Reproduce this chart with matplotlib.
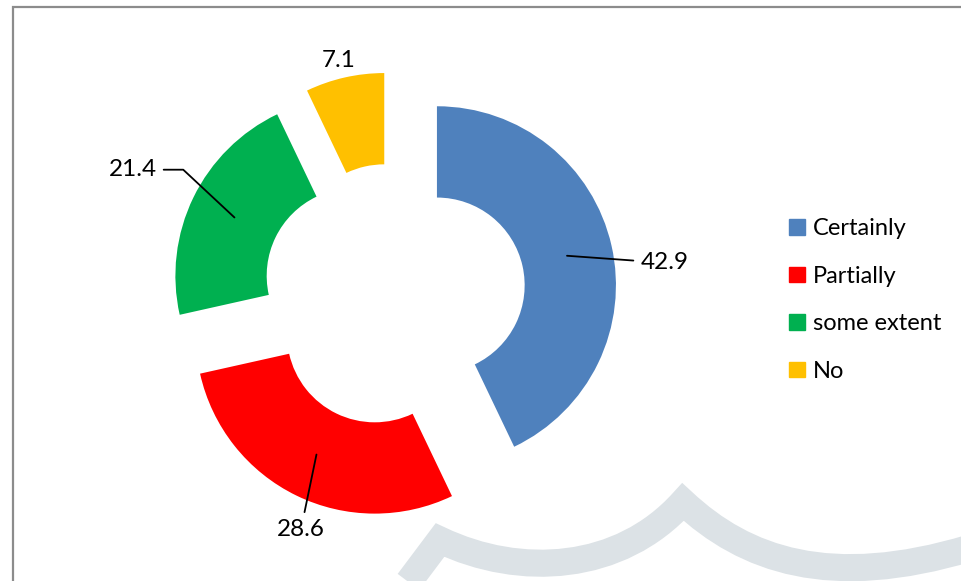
import numpy as np
import matplotlib.pyplot as plt
from matplotlib.path import Path
from matplotlib.patches import PathPatch, Rectangle

plt.rcParams['font.family'] = ['Lato', 'DejaVu Sans']

# dados
categorias = ['Certainly', 'Partially', 'some extent', 'No']
valores = [42.9, 28.6, 21.4, 7.1]
cores = ['#4F81BD', '#FF0000', '#00B050', '#FFC000']

W, H = 961, 581
R_PX = 179.0          # raio externo em pixels
CX, CY = 394, 295     # centro do donut (pixels, a partir do topo)
EXPLODE = 0.246
LARGURA = 0.51
FONTE = 17.5

fig = plt.figure(figsize=(W / 100, H / 100), dpi=100)
ax = fig.add_axes([0, 0, 1, 1])

wedges, _ = ax.pie(valores, colors=cores, startangle=90, counterclock=False,
                   explode=[EXPLODE] * len(valores),
                   wedgeprops=dict(width=LARGURA, linewidth=0))

ax.set_xlim(-CX / R_PX, (W - CX) / R_PX)
ax.set_ylim(-(H - CY) / R_PX, CY / R_PX)
ax.set_aspect('auto')
ax.axis('off')

# rótulos (posição do texto em coordenadas de dados)
pos_texto = [(1.51, 0.18), (-0.52, -1.31), (-1.46, 0.70), (-0.31, 1.31)]
com_linha = [True, True, True, False]

r_medio = 1 - LARGURA / 2
angulo = 90.0
for v, pt, linha in zip(valores, pos_texto, com_linha):
    frac = v / sum(valores) * 360
    meio = np.deg2rad(angulo - frac / 2)
    angulo -= frac
    dx, dy = np.cos(meio), np.sin(meio)
    xy = ((EXPLODE + r_medio) * dx, (EXPLODE + r_medio) * dy)
    if not linha:
        ax.text(pt[0], pt[1], f'{v}', ha='center', va='center', fontsize=FONTE)
        continue
    if pt[0] < -1.0:
        props = dict(arrowstyle='-', color='black', lw=1.3, shrinkA=3, shrinkB=0,
                     relpos=(1, 0.5), connectionstyle='angle,angleA=0,angleB=137,rad=0')
    else:
        props = dict(arrowstyle='-', color='black', lw=1.3, shrinkA=3, shrinkB=0)
    ax.annotate(f'{v}', xy=xy, xytext=pt, ha='center', va='center',
                fontsize=FONTE, arrowprops=props)

# legenda
handles = [Rectangle((0, 0), 1, 1, color=c) for c in cores]
fig.legend(handles, categorias, loc='upper left', bbox_to_anchor=(780 / W, 1 - 209 / H),
           frameon=False, fontsize=17, handlelength=0.64, handleheight=0.64,
           handletextpad=0.35, labelspacing=1.12, borderaxespad=0)

# marca d'água ao fundo
verts = [(395, 600), (440, 540),
         (520, 578), (620, 572), (683, 502),
         (745, 560), (830, 590), (970, 548)]
codes = [Path.MOVETO, Path.LINETO,
         Path.CURVE4, Path.CURVE4, Path.CURVE4,
         Path.CURVE4, Path.CURVE4, Path.CURVE4]
verts = [(x / W, 1 - y / H) for x, y in verts]
fig.patches.append(PathPatch(Path(verts, codes), transform=fig.transFigure,
                             facecolor='none', edgecolor='#DCE2E6', lw=19.5,
                             capstyle='butt', joinstyle='miter', zorder=0))

# moldura
fig.patches.append(Rectangle((12.5 / W, -0.05), 1.1, 1 - 7 / H + 0.05,
                             transform=fig.transFigure, fill=False,
                             edgecolor='#8C8C8C', lw=1.6, zorder=5))

fig.savefig('out.png', dpi=100)
